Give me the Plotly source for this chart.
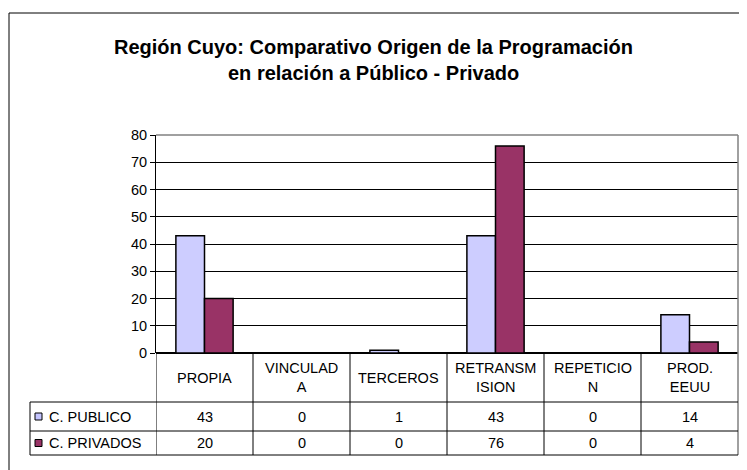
import plotly.graph_objects as go

categories = ["PROPIA", "VINCULADA", "TERCEROS", "RETRANSMISION", "REPETICION", "PROD. EEUU"]
header_labels = ["PROPIA", "VINCULAD<br>A", "TERCEROS", "RETRANSM<br>ISION", "REPETICIO<br>N", "PROD.<br>EEUU"]
series_names = ["C. PUBLICO", "C. PRIVADOS"]
publico = [43, 0, 1, 43, 0, 14]
privados = [20, 0, 0, 76, 0, 4]
title_lines = ["Región Cuyo: Comparativo Origen de la Programación", "en relación a Público - Privado"]

# page offset of the plot div (default body margin)
OFF = 8
W, H = 747 - OFF, 470 - OFF
L, R, T, B = 156 - OFF, 738 - OFF, 135 - OFF, 353 - OFF
FONT = "Arial, Liberation Sans, sans-serif"
FS = 14.5

def px(x):
    return (x - OFF - L) / (R - L)

def py(y):
    return (B - (y - OFF)) / (B - T)

xs = list(range(len(categories)))
fig = go.Figure()
fig.add_trace(go.Bar(
    x=xs, y=publico, name=series_names[0],
    marker=dict(color="#e4e4ff", line=dict(color="black", width=1.5),
                pattern=dict(shape=".", fgcolor="#7a7aff", bgcolor="#e4e4ff", size=2, solidity=0.5)),
))
fig.add_trace(go.Bar(
    x=xs, y=privados, name=series_names[1],
    marker=dict(color="#993366", line=dict(color="black", width=1.5)),
))

shapes = []
anns = []
# outer frame
shapes.append(dict(type="rect", xref="paper", yref="paper", x0=px(9), x1=px(800), y0=py(13), y1=py(520),
                   line=dict(color="black", width=1), layer="below"))
# plot area top/right border (gray)
shapes.append(dict(type="line", xref="paper", yref="paper", x0=0, x1=1, y0=1, y1=1, line=dict(color="#808080", width=1.5)))
shapes.append(dict(type="line", xref="paper", yref="paper", x0=1, x1=1, y0=1, y1=py(455), line=dict(color="#808080", width=1.5)))

# table geometry (page pixels)
r1_top, r_mid, r_bot = 402, 431, 455
tline = dict(color="black", width=1)
for i in range(len(categories)):
    shapes.append(dict(type="line", xref="x", yref="paper", x0=i - 0.5, x1=i - 0.5, y0=0, y1=py(r_bot), line=tline))
for yy in (r1_top, r_mid, r_bot):
    shapes.append(dict(type="line", xref="paper", yref="paper", x0=px(30), x1=1, y0=py(yy), y1=py(yy), line=tline))
shapes.append(dict(type="line", xref="paper", yref="paper", x0=px(30), x1=px(30), y0=py(r1_top), y1=py(r_bot), line=tline))

for i, lab in enumerate(header_labels):
    anns.append(dict(xref="x", yref="paper", x=i, y=py((353 + r1_top) / 2), text=lab, showarrow=False,
                     font=dict(family=FONT, size=FS, color="black"), yanchor="middle", xanchor="center"))
for vals, yc in ((publico, (r1_top + r_mid) / 2), (privados, (r_mid + r_bot) / 2)):
    for i, v in enumerate(vals):
        anns.append(dict(xref="x", yref="paper", x=i, y=py(yc), text=str(v), showarrow=False,
                         font=dict(family=FONT, size=FS, color="black"), yanchor="middle", xanchor="center"))
key_cols = ["#c4c4ff", "#993366"]
for name, col, yc in zip(series_names, key_cols, ((r1_top + r_mid) / 2, (r_mid + r_bot) / 2)):
    shapes.append(dict(type="rect", xref="paper", yref="paper", x0=px(35), x1=px(42), y0=py(yc - 3.5), y1=py(yc + 3.5),
                       fillcolor=col, line=dict(color="black", width=1)))
    anns.append(dict(xref="paper", yref="paper", x=px(47), y=py(yc), text=name, showarrow=False,
                     font=dict(family=FONT, size=FS, color="black"), yanchor="middle", xanchor="left"))

for line, yc in zip(title_lines, (47, 73)):
    anns.append(dict(xref="paper", yref="paper", x=px(747 / 2), y=py(yc), text="<b>" + line + "</b>", showarrow=False,
                     font=dict(family=FONT, size=20, color="black"), yanchor="middle", xanchor="center"))

fig.update_layout(
    width=W, height=H,
    margin=dict(l=L, r=W - R, t=T, b=H - B, pad=0),
    paper_bgcolor="white", plot_bgcolor="white",
    showlegend=False,
    barmode="group", bargap=0.41, bargroupgap=0,
    shapes=shapes, annotations=anns,
    xaxis=dict(range=[-0.5, 5.5], showticklabels=False, showgrid=False, zeroline=False,
               showline=False, ticks=""),
    yaxis=dict(range=[0, 80], dtick=10, tickmode="linear", showgrid=True, gridcolor="black", gridwidth=1,
               showline=True, linecolor="black", linewidth=1, ticks="outside", ticklen=5, tickcolor="black",
               tickfont=dict(family=FONT, size=FS, color="black"), zeroline=True, zerolinecolor="black",
               zerolinewidth=1.5),
)

fig.write_html("out.html")
